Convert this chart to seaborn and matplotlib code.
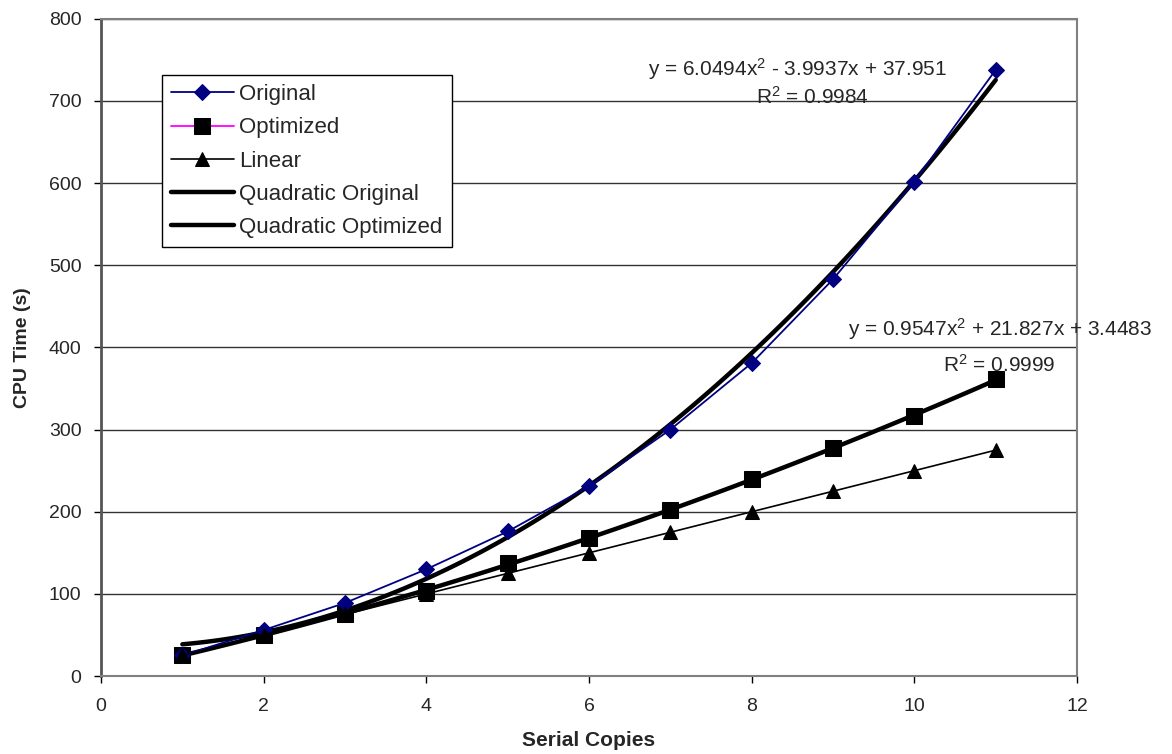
import numpy as np
import matplotlib
matplotlib.use("Agg")
import matplotlib.pyplot as plt
import seaborn as sns

sns.set_theme(style="white")
plt.rcParams["font.family"] = ["Liberation Sans", "DejaVu Sans"]
plt.rcParams["mathtext.default"] = "regular"

# -----------------------------
# DATA
# -----------------------------
copies = [1, 2, 3, 4, 5, 6, 7, 8, 9, 10, 11]
original = [25, 56, 89, 130, 176, 231, 300, 381, 483, 602, 738]
optimized = [25, 50, 76, 104, 137, 168, 202, 240, 277, 317, 361]
linear = [25, 50, 75, 100, 125, 150, 175, 200, 225, 250, 275]

eq_original = "y = 6.0494x$^2$ - 3.9937x + 37.951"
r2_original = "R$^2$ = 0.9984"
eq_optimized = "y = 0.9547x$^2$ + 21.827x + 3.4483"
r2_optimized = "R$^2$ = 0.9999"

# -----------------------------
# FIGURE
# -----------------------------
fig, ax = plt.subplots(figsize=(11.72, 7.54), dpi=100)
fig.subplots_adjust(left=0.0862, right=0.919, top=0.975, bottom=0.1034)

# quadratic trendlines
sns.regplot(x=copies, y=original, order=2, ci=None, scatter=False, truncate=True,
            label="Quadratic Original",
            line_kws=dict(color="black", lw=3.2, zorder=3), ax=ax)
sns.regplot(x=copies, y=optimized, order=2, ci=None, scatter=False, truncate=True,
            label="Quadratic Optimized",
            line_kws=dict(color="black", lw=3.2, zorder=3), ax=ax)

# series
sns.lineplot(x=copies, y=original, color="#000080", lw=1.3, marker="D", markersize=8,
             markeredgecolor="#000080", label="Original", ax=ax, zorder=4)
sns.lineplot(x=copies, y=optimized, color="#FF00FF", lw=1.3, marker="s", markersize=11,
             markerfacecolor="black", markeredgecolor="black", label="Optimized", ax=ax, zorder=2)
sns.lineplot(x=copies, y=linear, color="black", lw=1.2, marker="^", markersize=10,
             markeredgecolor="black", label="Linear", ax=ax, zorder=4)

# -----------------------------
# AXES
# -----------------------------
ax.set_xlim(0, 12)
ax.set_ylim(0, 800)
ax.set_xticks(range(0, 13, 2))
ax.set_yticks(range(0, 801, 100))
ax.yaxis.grid(True, color="#333333", lw=1.0)
ax.set_axisbelow(True)
for s in ax.spines.values():
    s.set_color("#808080")
    s.set_linewidth(1.5)
ax.spines["left"].set_color("#555555")
ax.spines["left"].set_linewidth(2)
ax.tick_params(axis="both", direction="out", length=5, width=1, color="black",
               labelsize=14, bottom=True, left=True)
ax.tick_params(axis="y", pad=9)
ax.tick_params(axis="x", pad=11)
ax.set_xlabel("Serial Copies", fontsize=15, fontweight="bold", labelpad=11)
ax.set_ylabel("CPU Time (s)", fontsize=14, fontweight="bold", labelpad=13)

# equations
ax.text(8.56, 731, eq_original, ha="center", va="baseline", fontsize=15)
ax.text(8.75, 697, r2_original, ha="center", va="baseline", fontsize=15)
ax.text(11.05, 414, eq_optimized, ha="center", va="baseline", fontsize=15, clip_on=False)
ax.text(11.05, 370, r2_optimized, ha="center", va="baseline", fontsize=15)

# legend
handles, labels = ax.get_legend_handles_labels()
order = ["Original", "Optimized", "Linear", "Quadratic Original", "Quadratic Optimized"]
hmap = dict(zip(labels, handles))
leg = ax.legend([hmap[k] for k in order], order, loc="upper left",
                bbox_to_anchor=(0.0625, 0.9148), borderaxespad=0, fontsize=16,
                frameon=True, fancybox=False, edgecolor="black", framealpha=1,
                handlelength=2.8, borderpad=0.42, labelspacing=0.55, handletextpad=0.25)
leg.get_frame().set_linewidth(1.0)

plt.savefig("out.png", dpi=100)
plt.close()
